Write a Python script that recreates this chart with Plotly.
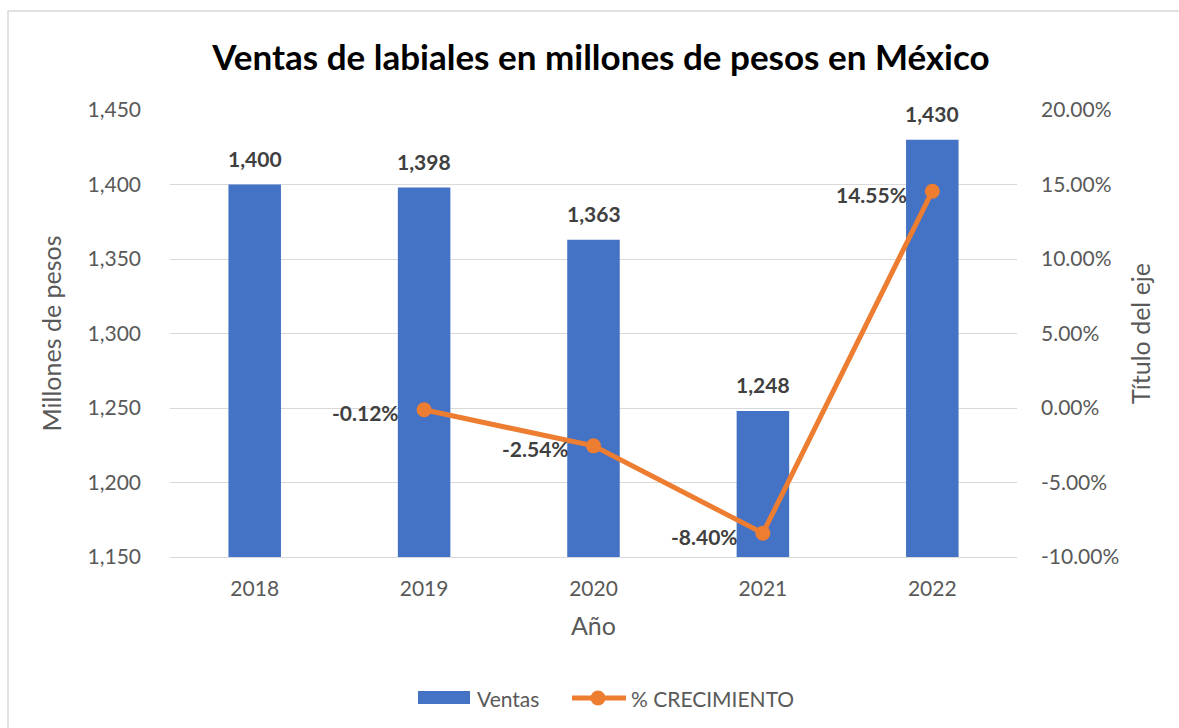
import plotly.graph_objects as go

# Sales of lipsticks (millions of pesos) and year-over-year growth
years = [2018, 2019, 2020, 2021, 2022]
ventas = [1400, 1398, 1363, 1248, 1430]
growth_years = [2019, 2020, 2021, 2022]
crecimiento = [-0.0012, -0.0254, -0.0840, 0.1455]

# axis ticks
ventas_ticks = [1150, 1200, 1250, 1300, 1350, 1400, 1450]
pct_ticks = [-0.10, -0.05, 0.0, 0.05, 0.10, 0.15, 0.20]

BLUE = "#4472C4"
ORANGE = "#ED7D31"
GRID = "#D9D9D9"
TICK = "#595959"
LABEL = "#404040"
FONT = "Lato, 'Open Sans', sans-serif"

W, H = 1179, 728
L, R, T, B = 170, 162, 110, 171
pw, ph = W - L - R, H - T - B


def to_px(x):
    return (x - L) / pw


def to_py(y):
    return (H - B - y) / ph


fig = go.Figure()

fig.add_trace(go.Bar(
    x=years, y=ventas, name="Ventas",
    marker=dict(color=BLUE, line=dict(width=0)),
    width=0.31, showlegend=False,
))

fig.add_trace(go.Scatter(
    x=growth_years, y=crecimiento, name="% CRECIMIENTO",
    yaxis="y2", mode="lines+markers",
    line=dict(color=ORANGE, width=5),
    marker=dict(color=ORANGE, size=15),
    showlegend=False,
))

annotations = []
label_font = dict(family=FONT, size=21, color=LABEL, weight="bold")

# value labels above bars
for yr, v in zip(years, ventas):
    annotations.append(dict(
        x=yr, y=v, xref="x", yref="y", text=f"{v:,}", showarrow=False,
        xanchor="center", yanchor="middle", yshift=26, font=label_font,
    ))

# growth labels to the left of each point
for yr, g in zip(growth_years, crecimiento):
    annotations.append(dict(
        x=yr, y=g, xref="x", yref="y2", text=f"{g*100:.2f}%", showarrow=False,
        xanchor="right", yanchor="middle", xshift=-23, yshift=-3, font=label_font,
    ))

# legend
legend_font = dict(family=FONT, size=21, color=TICK)
annotations += [
    dict(x=to_px(475), y=to_py(698), xref="paper", yref="paper", text="Ventas",
         showarrow=False, xanchor="left", yanchor="middle", font=legend_font),
    dict(x=to_px(629), y=to_py(698), xref="paper", yref="paper", text="% CRECIMIENTO",
         showarrow=False, xanchor="left", yanchor="middle", font=legend_font),
]

shapes = [
    # chart frame
    dict(type="rect", xref="paper", yref="paper",
         x0=to_px(8), x1=to_px(W + 10), y0=to_py(H + 10), y1=to_py(11),
         line=dict(color=GRID, width=1.5), fillcolor="rgba(0,0,0,0)", layer="below"),
    # legend symbols
    dict(type="rect", xref="paper", yref="paper",
         x0=to_px(418), x1=to_px(470), y0=to_py(704), y1=to_py(691),
         line=dict(width=0), fillcolor=BLUE),
    dict(type="line", xref="paper", yref="paper",
         x0=to_px(572), x1=to_px(626), y0=to_py(698), y1=to_py(698),
         line=dict(color=ORANGE, width=5)),
    dict(type="circle", xref="paper", yref="paper",
         x0=to_px(598 - 7.5), x1=to_px(598 + 7.5),
         y0=to_py(698 + 7.5), y1=to_py(698 - 7.5),
         line=dict(width=0), fillcolor=ORANGE),
]

fig.update_layout(
    width=W, height=H,
    margin=dict(l=L, r=R, t=T, b=B, pad=0),
    paper_bgcolor="white", plot_bgcolor="white",
    font=dict(family=FONT, color=TICK, size=21),
    title=dict(
        text="<b>Ventas de labiales en millones de pesos en México</b>",
        x=601 / W, xref="container", xanchor="center",
        y=1 - 58 / H, yref="container", yanchor="middle",
        font=dict(family=FONT, size=35, color="#000000"),
    ),
    showlegend=False,
    xaxis=dict(
        range=[years[0] - 0.5, years[-1] + 0.5],
        tickvals=years, ticktext=[str(y) for y in years],
        showgrid=False, showline=True, linecolor=GRID, linewidth=1,
        zeroline=False, ticks="", tickfont=dict(size=21, color=TICK),
        ticklabelstandoff=13,
        title=dict(text="Año", font=dict(size=25, color=TICK), standoff=18),
    ),
    yaxis=dict(
        range=[1150, 1450],
        tickvals=ventas_ticks, ticktext=[f"{v:,}" for v in ventas_ticks],
        showgrid=True, gridcolor=GRID, gridwidth=1,
        zeroline=False, showline=False, ticks="",
        tickfont=dict(size=21, color=TICK), ticklabelstandoff=28,
        title=dict(text="Millones de pesos", font=dict(size=25, color=TICK), standoff=18),
    ),
    yaxis2=dict(
        overlaying="y", side="right",
        range=[-0.10, 0.20],
        tickvals=pct_ticks, ticktext=[f"{v*100:.2f}%" for v in pct_ticks],
        showgrid=False, zeroline=False, showline=False, ticks="",
        tickfont=dict(size=21, color=TICK), ticklabelstandoff=23,
        title=dict(text="Título del eje", font=dict(size=25, color=TICK), standoff=14),
    ),
    annotations=annotations,
    shapes=shapes,
)

fig.write_html("out.html")
